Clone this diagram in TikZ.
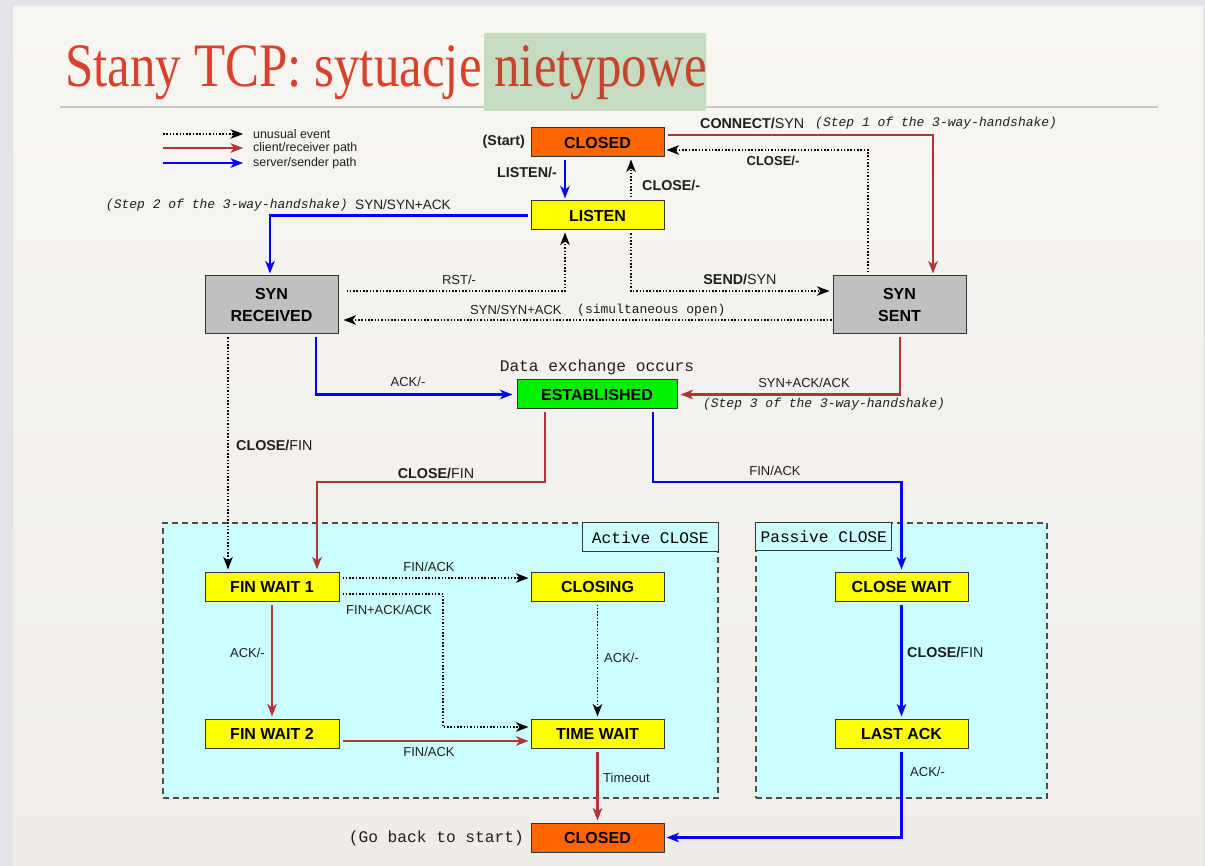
\documentclass[tikz,border=0pt]{standalone}
\usepackage{fontspec}
\setmainfont{Liberation Sans}
\setmonofont{Liberation Mono}
\newfontfamily\titlefont{Liberation Serif}
\usetikzlibrary{arrows.meta,calc}

\definecolor{frame}{HTML}{E4E4E8}
\definecolor{paperTop}{HTML}{F8F6F1}
\definecolor{paperMid}{HTML}{EAE7E2}
\definecolor{paperBot}{HTML}{F0EDE8}
\definecolor{titlered}{HTML}{D9412B}
\definecolor{titlered2}{HTML}{C2452E}
\definecolor{hilite}{HTML}{C6DBBF}
\definecolor{rulegray}{HTML}{C9C7C3}
\definecolor{stOrange}{HTML}{FF6600}
\definecolor{stYellow}{HTML}{FFFF00}
\definecolor{stGreen}{HTML}{00EE00}
\definecolor{stGray}{HTML}{C0C0C0}
\definecolor{zone}{HTML}{CCFFFF}
\definecolor{cpath}{HTML}{B03535}
\definecolor{spath}{HTML}{0000FF}
\definecolor{ink}{HTML}{1E1E1E}

\begin{document}
\begin{tikzpicture}[x=1pt,y=-1pt,
  state/.style={draw=black!80, line width=1pt, minimum width=133pt,
    minimum height=29pt, inner sep=0pt, align=center, text=black,
    font=\fontsize{16}{20}\selectfont\bfseries},
  tip/.style={-{Stealth[length=12.5pt,width=9.5pt,inset=3.5pt]}},
  conn/.style={tip, line width=2.1pt, shorten <=3pt, shorten >=2pt},
  cpathline/.style={conn, draw=cpath, color=cpath},
  spathline/.style={conn, draw=spath, color=spath},
  oddline/.style={conn, draw=black, color=black, line width=1.6pt,
    dash pattern=on 1.5pt off 1.8pt},
  lbl/.style={inner sep=0pt, text=ink, font=\fontsize{13}{15}\selectfont},
  blbl/.style={inner sep=0pt, text=ink, font=\fontsize{14.3}{16}\selectfont},
  smono/.style={inner sep=0pt, text=ink, font=\fontsize{13}{15}\selectfont\ttfamily},
  bmono/.style={inner sep=0pt, text=ink, font=\fontsize{16.2}{18}\selectfont\ttfamily},
  zonebox/.style={draw=black!70, line width=1.5pt, dash pattern=on 6pt off 4pt,
    fill=zone, inner sep=0pt},
  zonetag/.style={draw=black!80, line width=1pt, fill=zone, inner sep=0pt,
    minimum height=29pt, font=\fontsize{16.2}{18}\selectfont\ttfamily}
]
% page and slide background
\useasboundingbox (0,0) rectangle (1205,866);
\fill[frame] (0,0) rectangle (1205,866);
\shade[top color=paperTop, middle color=paperMid, bottom color=paperBot]
  (13,7) rectangle (1203,866);

% title with highlighted word and rule
\draw[rulegray, line width=2pt] (60,107) -- (1158,107);
\fill[hilite, rounded corners=2pt] (484,33) rectangle (706,111);
\node[anchor=base west, inner sep=0pt, font=\titlefont\fontsize{60}{66}\selectfont]
  (title) at (65,87)
  {\scalebox{0.85}[1.03]{\textcolor{titlered}{Stany TCP: sytuacje }\textcolor{titlered2}{nietypowe}}};

% legend
\coordinate (lgA1) at (163,134); \coordinate (lgA2) at (243,134);
\coordinate (lgB1) at (163,148); \coordinate (lgB2) at (243,148);
\coordinate (lgC1) at (163,163); \coordinate (lgC2) at (243,163);
\draw[oddline, shorten <=0pt, shorten >=0pt, line width=1.2pt] (lgA1) -- (lgA2);
\draw[cpathline, shorten <=0pt, shorten >=0pt] (lgB1) -- (lgB2);
\draw[spathline, shorten <=0pt, shorten >=0pt] (lgC1) -- (lgC2);
\node[lbl, anchor=west, font=\fontsize{12.4}{14}\selectfont] (lgAt) at (253,134) {unusual event};
\node[lbl, anchor=west, font=\fontsize{12.4}{14}\selectfont] (lgBt) at (253,148) {client/receiver path};
\node[lbl, anchor=west, font=\fontsize{12.4}{14}\selectfont] (lgCt) at (253,163) {server/sender path};

% close phases
\node[zonebox, minimum width=555pt, minimum height=275pt] (activeZ) at (440.5,660.5) {};
\node[zonebox, minimum width=291pt, minimum height=275pt] (passiveZ) at (901.5,660.5) {};
\node[zonetag, anchor=north east, minimum width=136pt] (activeT) at (activeZ.north east) {Active CLOSE};
\node[zonetag, anchor=north west, minimum width=136pt, minimum height=28pt] (passiveT) at (passiveZ.north west) {Passive CLOSE};

% states
\node[state, fill=stOrange] (closedA) at (597.5,142.5) {CLOSED};
\node[state, fill=stYellow] (listen) at (597.5,215.5) {LISTEN};
\node[state, fill=stGray, minimum height=58pt] (synrcvd) at (271.5,305) {SYN\\[2pt]RECEIVED};
\node[state, fill=stGray, minimum height=58pt] (synsent) at (899.5,305) {SYN\\[2pt]SENT};
\node[state, fill=stGreen, minimum width=160pt] (estab) at (597,394.5) {ESTABLISHED};
\node[state, fill=stYellow, minimum width=134pt] (fw1) at (272,586.5) {FIN WAIT 1};
\node[state, fill=stYellow] (closing) at (597.5,586.5) {CLOSING};
\node[state, fill=stYellow, minimum width=134pt] (fw2) at (272,733.5) {FIN WAIT 2};
\node[state, fill=stYellow] (timewait) at (597.5,733.5) {TIME WAIT};
\node[state, fill=stYellow] (closewait) at (901.5,586.5) {CLOSE WAIT};
\node[state, fill=stYellow] (lastack) at (901.5,733.5) {LAST ACK};
\node[state, fill=stOrange] (closedB) at (597.5,837.5) {CLOSED};

% free texts
\node[blbl, anchor=east, font=\fontsize{14.3}{16}\selectfont\bfseries] (startT) at (525,142) {(Start)};
\node[bmono, anchor=east] (backT) at (524,838) {(Go back to start)};
\node[bmono] (dataT) at (597,367) {Data exchange occurs};

% bend levels
\coordinate (splitL) at (0,482);
\coordinate (bendF) at (443,0);
\coordinate (twIn) at ([yshift=6.5pt]timewait.west);

% opening
\draw[cpathline] ([yshift=7.5pt]closedA.east) -| ([xshift=33.5pt]synsent.north);
\node[blbl, anchor=west] (connT) at (700,123) {\textbf{CONNECT/}SYN};
\node[smono, anchor=west, font=\fontsize{13}{15}\selectfont\ttfamily\itshape] (step1T) at (815,123) {(Step 1 of the 3-way-handshake)};

\draw[oddline] ([xshift=-31.5pt]synsent.north) |- ([yshift=-7.5pt]closedA.east);
\node[blbl, font=\fontsize{13}{15}\selectfont\bfseries] (closeSsT) at (773,161) {CLOSE/-};

\draw[spathline] ([xshift=-32.5pt]closedA.south) -- ([xshift=-32.5pt]listen.north);
\node[blbl, anchor=east, font=\fontsize{14.3}{16}\selectfont\bfseries] (listenT) at (557,172) {LISTEN/-};

\draw[oddline] ([xshift=33.5pt]listen.north) -- ([xshift=33.5pt]closedA.south);
\node[blbl, anchor=west, font=\fontsize{14.3}{16}\selectfont\bfseries] (closeLT) at (642,185) {CLOSE/-};

\draw[spathline] (listen.west) -| ([xshift=-1.5pt]synrcvd.north);
\node[smono, anchor=east, font=\fontsize{13}{15}\selectfont\ttfamily\itshape] (step2T) at (348,205) {(Step 2 of the 3-way-handshake)};
\node[blbl, anchor=west, font=\fontsize{13.6}{15}\selectfont] (step2L) at (355,205) {SYN/SYN+ACK};

\draw[oddline, shorten <=8pt] ([yshift=14pt]synrcvd.east) -| ([xshift=-32.5pt]listen.south);
\node[lbl] (rstT) at (459,280) {RST/-};

\draw[oddline, shorten >=3pt] ([xshift=33.5pt]listen.south) |- ([yshift=14pt]synsent.west);
\node[blbl] (sendT) at (740,279) {\textbf{SEND/}SYN};

\draw[oddline, shorten <=1pt, shorten >=5pt] ([yshift=-15pt]synsent.west) -- ([yshift=-15pt]synrcvd.east);
\node[lbl, anchor=west] (simT) at (470,310) {SYN/SYN+ACK};
\node[smono, anchor=west] (simM) at (577,310) {(simultaneous open)};

\draw[spathline, shorten >=4pt] ([xshift=44.5pt]synrcvd.south) |- (estab.west);
\node[lbl] (ackRT) at (408,382) {ACK/-};

\draw[cpathline, shorten >=3pt] ([xshift=0.5pt]synsent.south) |- (estab.east);
\node[lbl] (synackT) at (804,383) {SYN+ACK/ACK};
\node[smono, font=\fontsize{13}{15}\selectfont\ttfamily\itshape] (step3T) at (824,404) {(Step 3 of the 3-way-handshake)};

% closing
\draw[oddline] ([xshift=-43.5pt]synrcvd.south) -- ([xshift=-44pt]fw1.north);
\node[blbl, anchor=west] (closeRT) at (236,445) {\textbf{CLOSE/}FIN};

\draw[cpathline] ([xshift=-52pt]estab.south) -- ([xshift=-52pt]estab.south |- splitL)
  -| ([xshift=45pt]fw1.north);
\node[blbl] (closeET) at (436,473) {\textbf{CLOSE/}FIN};

\draw[spathline] ([xshift=56pt]estab.south) -- ([xshift=56pt]estab.south |- splitL)
  -| (closewait.north);
\node[lbl] (finackPT) at (775,471) {FIN/ACK};

\draw[oddline] ([yshift=8.5pt]fw1.east) -- ([yshift=8.5pt]closing.west);
\node[lbl] (finackAT) at (429,567) {FIN/ACK};

\draw[oddline] ([yshift=-7.5pt]fw1.east) -| (bendF |- twIn) -- (twIn);
\node[lbl] (finackackT) at (389,610) {FIN+ACK/ACK};

\draw[oddline] (closing.south) -- (timewait.north);
\node[lbl, anchor=west] (ackCT) at (604,658) {ACK/-};

\draw[cpathline] (fw1.south) -- (fw2.north);
\node[lbl, anchor=east] (ackFT) at (265,653) {ACK/-};

\draw[cpathline] ([yshift=-7.5pt]fw2.east) -- ([yshift=-7.5pt]timewait.west);
\node[lbl] (finackBT) at (429,752) {FIN/ACK};

\draw[cpathline] (timewait.south) -- (closedB.north);
\node[lbl, anchor=west] (timeoutT) at (603,778) {Timeout};

\draw[spathline] (closewait.south) -- (lastack.north);
\node[blbl, anchor=west] (closeWT) at (907,652) {\textbf{CLOSE/}FIN};

\draw[spathline] (lastack.south) |- (closedB.east);
\node[lbl, anchor=west] (ackLT) at (910,772) {ACK/-};
\end{tikzpicture}
\end{document}
